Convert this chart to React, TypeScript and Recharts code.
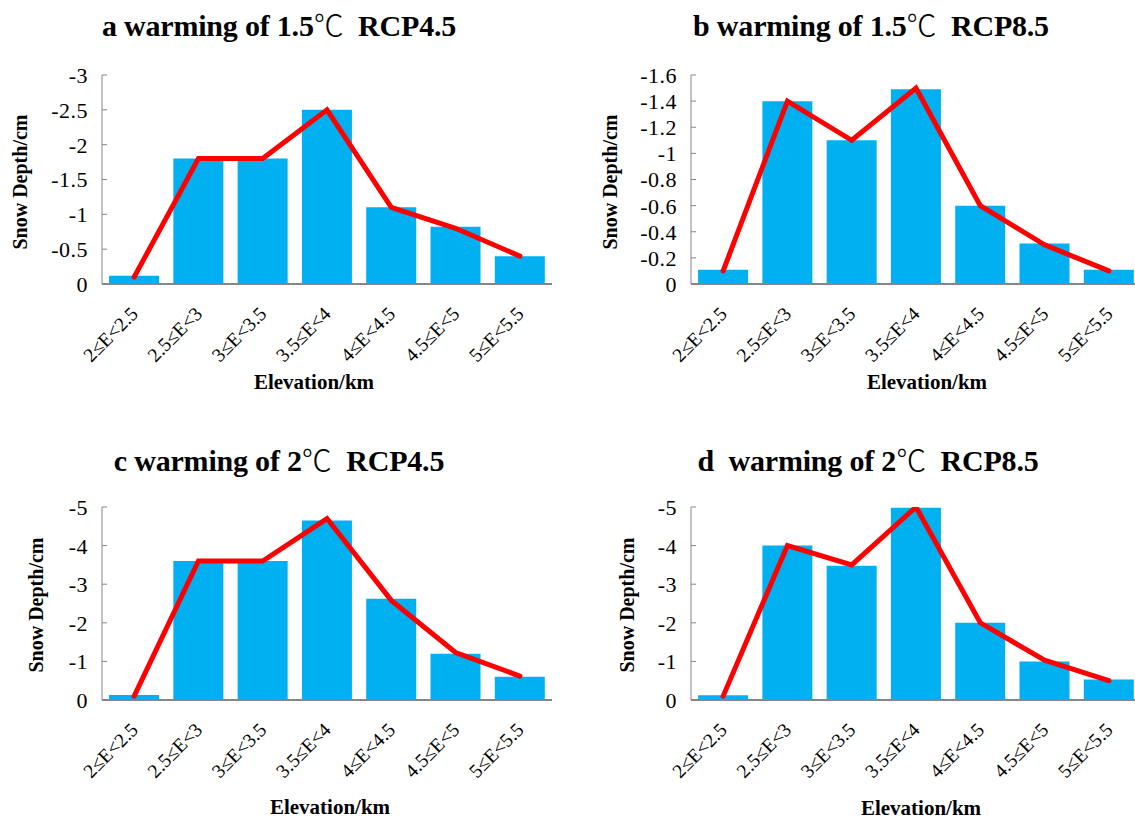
import React from 'react';
import { ComposedChart, Bar, Line, XAxis, YAxis } from 'recharts';

const categories = ['2≤E<2.5', '2.5≤E<3', '3≤E<3.5', '3.5≤E<4', '4≤E<4.5', '4.5≤E<5', '5≤E<5.5'];

const aBars = [-0.12, -1.8, -1.8, -2.5, -1.1, -0.82, -0.4];
const aLine = [-0.1, -1.8, -1.8, -2.5, -1.1, -0.8, -0.4];
const bBars = [-0.11, -1.4, -1.1, -1.49, -0.6, -0.31, -0.11];
const bLine = [-0.1, -1.4, -1.1, -1.5, -0.6, -0.3, -0.1];
const cBars = [-0.13, -3.6, -3.6, -4.65, -2.62, -1.2, -0.6];
const cLine = [-0.1, -3.6, -3.6, -4.7, -2.58, -1.23, -0.62];
const dBars = [-0.12, -4.0, -3.48, -4.98, -2.0, -1.0, -0.53];
const dLine = [-0.1, -4.0, -3.5, -5.0, -2.0, -1.03, -0.5];

const ticks15 = [-3, -2.5, -2, -1.5, -1, -0.5, 0];
const ticks16 = [-1.6, -1.4, -1.2, -1, -0.8, -0.6, -0.4, -0.2, 0];
const ticks5 = [-5, -4, -3, -2, -1, 0];

const titles = [
  'a warming of 1.5',
  'b warming of 1.5',
  'c warming of 2',
  'd  warming of 2',
];
const scenarios = ['RCP4.5', 'RCP8.5', 'RCP4.5', 'RCP8.5'];

const FONT = "'Liberation Serif', 'Times New Roman', serif";
const BLUE = '#00B0F0';
const RED = '#FF0000';
const GREY = '#868686';

function build(bars: number[], line: number[]) {
  return categories.map((c, i) => ({ cat: c, bar: bars[i], line: line[i] }));
}

const YTick = (props: any) => {
  const { x, y, payload } = props;
  return (
    <g>
      <line x1={x} y1={y} x2={x + 5} y2={y} stroke={GREY} strokeWidth={1} />
      <text
        x={x - 14}
        y={y}
        dy="0.36em"
        textAnchor="end"
        style={{ fontFamily: FONT, fontSize: 22, letterSpacing: 0.5 }}
        fill="#000"
      >
        {String(payload.value)}
      </text>
    </g>
  );
};

const XTick = (props: any) => {
  const { x, y, payload } = props;
  const tx = x + 5;
  const ty = y + 31;
  return (
    <text
      x={tx}
      y={ty}
      transform={`rotate(-45, ${tx}, ${ty})`}
      textAnchor="end"
      style={{ fontFamily: FONT, fontSize: 19.5 }}
      fill="#000"
    >
      {payload.value}
    </text>
  );
};

type PanelProps = {
  left: number;
  top: number;
  width: number;
  height: number;
  margin: any;
  yWidth: number;
  xHeight: number;
  bars: number[];
  line: number[];
  domain: [number, number];
  ticks: number[];
};

function Panel(p: PanelProps) {
  const data = build(p.bars, p.line);
  return (
    <div style={{ position: 'absolute', left: p.left, top: p.top }}>
      <ComposedChart width={p.width} height={p.height} data={data} margin={p.margin} barCategoryGap="11%">
        <XAxis
          dataKey="cat"
          height={p.xHeight}
          tick={<XTick />}
          tickLine={false}
          tickSize={0}
          tickMargin={0}
          interval={0}
          axisLine={{ stroke: GREY, strokeWidth: 2 }}
        />
        <YAxis
          width={p.yWidth}
          domain={p.domain}
          ticks={p.ticks}
          reversed
          allowDataOverflow
          tick={<YTick />}
          tickLine={false}
          tickSize={0}
          tickMargin={0}
          interval={0}
          axisLine={{ stroke: GREY, strokeWidth: 1 }}
        />
        <Bar dataKey="bar" fill={BLUE} isAnimationActive={false} />
        <Line
          dataKey="line"
          type="linear"
          stroke={RED}
          strokeWidth={5}
          dot={false}
          activeDot={false}
          strokeLinecap="round"
          isAnimationActive={false}
        />
      </ComposedChart>
    </div>
  );
}

const Title = ({ cx, top, idx }: { cx: number; top: number; idx: number }) => (
  <div
    style={{
      position: 'absolute',
      left: cx,
      top,
      transform: 'translateX(-50%)',
      whiteSpace: 'pre',
      fontFamily: FONT,
      fontWeight: 'bold',
      fontSize: 30,
      lineHeight: '30px',
      letterSpacing: -0.2,
      color: '#000',
    }}
  >
    {titles[idx]}
    <span style={{ fontFamily: "'Noto Sans CJK SC', sans-serif", fontWeight: 300 }}>℃</span>
    {'  ' + scenarios[idx]}
  </div>
);

const YLabel = ({ cx, cy }: { cx: number; cy: number }) => (
  <div
    style={{
      position: 'absolute',
      left: cx,
      top: cy,
      transform: 'translate(-50%, -50%) rotate(-90deg)',
      whiteSpace: 'nowrap',
      fontFamily: FONT,
      fontWeight: 'bold',
      fontSize: 20,
      lineHeight: '20px',
    }}
  >
    Snow Depth/cm
  </div>
);

const XLabel = ({ cx, cy }: { cx: number; cy: number }) => (
  <div
    style={{
      position: 'absolute',
      left: cx,
      top: cy,
      transform: 'translate(-50%, -50%)',
      whiteSpace: 'nowrap',
      fontFamily: FONT,
      fontWeight: 'bold',
      fontSize: 21,
      lineHeight: '21px',
    }}
  >
    Elevation/km
  </div>
);

export default function App() {
  const topMargin = { top: 75, right: 15, bottom: 0, left: 0 };
  const topMarginR = { top: 75, right: 6, bottom: 0, left: 0 };
  const botMargin = { top: 87, right: 15, bottom: 0, left: 0 };
  const botMarginR = { top: 87, right: 6, bottom: 0, left: 0 };
  return (
    <div
      style={{
        position: 'absolute',
        left: 0,
        top: 0,
        width: 1135,
        height: 820,
        overflow: 'hidden',
        background: '#fff',
      }}
    >
      <Panel left={0} top={0} width={567} height={410} margin={topMargin} yWidth={102} xHeight={126}
        bars={aBars} line={aLine} domain={[-3, 0]} ticks={ticks15} />
      <Panel left={567} top={0} width={580} height={410} margin={topMarginR} yWidth={124} xHeight={126}
        bars={bBars} line={bLine} domain={[-1.6, 0]} ticks={ticks16} />
      <Panel left={0} top={420} width={567} height={410} margin={botMargin} yWidth={102} xHeight={130}
        bars={cBars} line={cLine} domain={[-5, 0]} ticks={ticks5} />
      <Panel left={567} top={420} width={580} height={410} margin={botMarginR} yWidth={124} xHeight={130}
        bars={dBars} line={dLine} domain={[-5, 0]} ticks={ticks5} />

      <Title cx={279} top={8} idx={0} />
      <Title cx={871} top={8} idx={1} />
      <Title cx={279} top={443} idx={2} />
      <Title cx={868} top={443} idx={3} />

      <YLabel cx={20} cy={182} />
      <YLabel cx={610} cy={182} />
      <YLabel cx={36} cy={605} />
      <YLabel cx={627} cy={605} />

      <XLabel cx={314} cy={382} />
      <XLabel cx={927} cy={382} />
      <XLabel cx={330} cy={807} />
      <XLabel cx={921} cy={808} />
    </div>
  );
}
